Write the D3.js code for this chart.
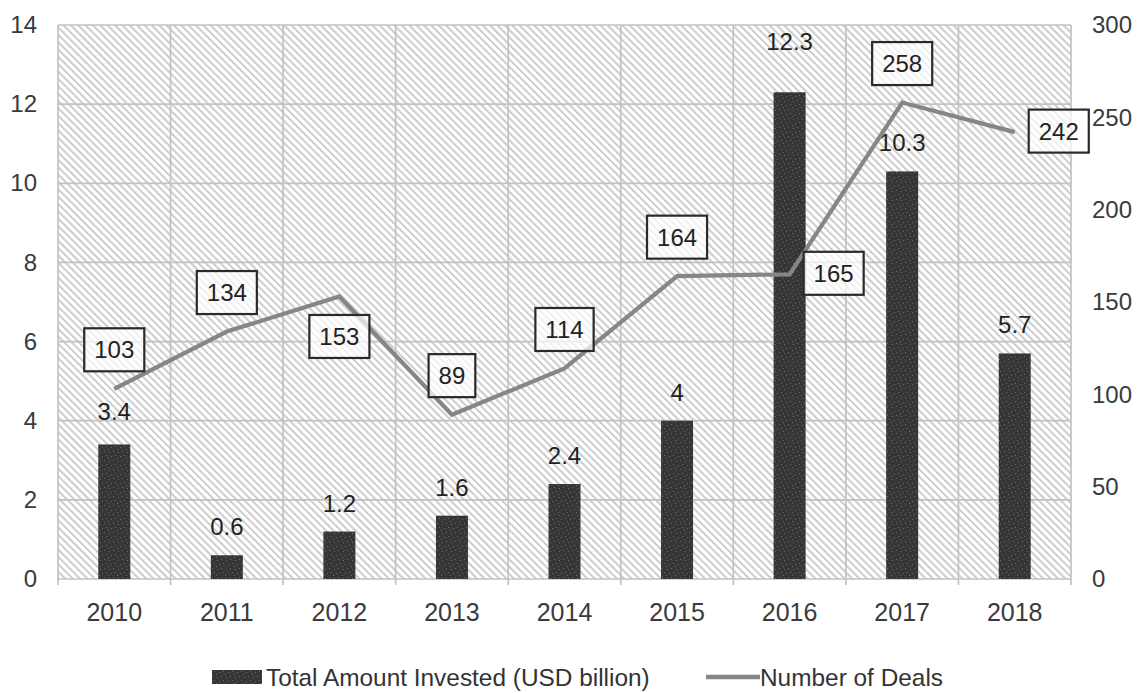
<!DOCTYPE html>
<html>
<head>
<meta charset="utf-8">
<script src="https://cdn.jsdelivr.net/npm/d3@7"></script>
<style>
  html, body { margin: 0; padding: 0; background: #fff; }
  svg { display: block; }
  text { font-family: "Liberation Sans", Arial, sans-serif; }
</style>
</head>
<body>
<svg id="chart" width="1139" height="693"></svg>
<script>
// Yearly investment totals and deal counts
const years = ["2010", "2011", "2012", "2013", "2014", "2015", "2016", "2017", "2018"];
const amountInvested = [3.4, 0.6, 1.2, 1.6, 2.4, 4, 12.3, 10.3, 5.7];
const numberOfDeals = [103, 134, 153, 89, 114, 164, 165, 258, 242];
const dealLabelPlacement = ["above", "above", "below", "above", "above", "above", "right", "above", "right"];
const leftTicks = [0, 2, 4, 6, 8, 10, 12, 14];
const rightTicks = [0, 50, 100, 150, 200, 250, 300];
const seriesNames = ["Total Amount Invested (USD billion)", "Number of Deals"];

const svg = d3.select("#chart");
const margin = { left: 58, right: 68, top: 25, bottom: 114 };
const W = 1139, H = 693;
const x0 = margin.left, x1 = W - margin.right;
const y0 = H - margin.bottom, y1 = margin.top;

const x = d3.scaleBand().domain(years).range([x0, x1]).paddingInner(0).paddingOuter(0);
const yLeft = d3.scaleLinear().domain([0, 14]).range([y0, y1]);
const yRight = d3.scaleLinear().domain([0, 300]).range([y0, y1]);

const defs = svg.append("defs");
// diagonal hatch for the plot background
const hatch = defs.append("pattern")
  .attr("id", "hatch").attr("patternUnits", "userSpaceOnUse")
  .attr("width", 5.2).attr("height", 5.2)
  .attr("patternTransform", "rotate(-45)");
hatch.append("rect").attr("width", 5.2).attr("height", 5.2).attr("fill", "#fff");
hatch.append("line").attr("x1", 1).attr("y1", 0).attr("x2", 1).attr("y2", 5.2)
  .attr("stroke", "#cacaca").attr("stroke-width", 1.9);

// speckled dark fill for the bars
const speck = defs.append("pattern")
  .attr("id", "speck").attr("patternUnits", "userSpaceOnUse")
  .attr("width", 9).attr("height", 9);
speck.append("rect").attr("width", 9).attr("height", 9).attr("fill", "#363636");
[[1, 2], [5, 1], [3, 6], [7, 5], [0, 8]].forEach(([px, py]) => {
  speck.append("rect").attr("x", px).attr("y", py).attr("width", 1).attr("height", 1)
    .attr("fill", "#6a6a6a");
});

// plot background
svg.append("rect")
  .attr("x", x0).attr("y", y1).attr("width", x1 - x0).attr("height", y0 - y1)
  .attr("fill", "url(#hatch)");

// grid
const grid = svg.append("g").attr("stroke", "#c2c2c2").attr("stroke-width", 1.7);
const bounds = years.map(d => x(d)).concat([x1]);
grid.selectAll("line.v").data(bounds).join("line")
  .attr("x1", d => d).attr("x2", d => d).attr("y1", y1).attr("y2", y0 + 6);
grid.selectAll("line.h").data(leftTicks).join("line")
  .attr("x1", x0).attr("x2", x1).attr("y1", d => yLeft(d)).attr("y2", d => yLeft(d));

// left axis
const axisLeft = svg.append("g").attr("transform", `translate(${x0 - 21},0)`)
  .call(d3.axisLeft(yLeft).tickValues(leftTicks).tickSize(0).tickPadding(0));
axisLeft.select(".domain").remove();
axisLeft.selectAll("text").attr("font-size", 24).attr("fill", "#3a3a3a")
  .attr("font-family", null);

// right axis
const axisRight = svg.append("g").attr("transform", `translate(${x1 + 21},0)`)
  .call(d3.axisRight(yRight).tickValues(rightTicks).tickSize(0).tickPadding(0));
axisRight.select(".domain").remove();
axisRight.selectAll("text").attr("font-size", 24).attr("fill", "#3a3a3a")
  .attr("font-family", null);

// bottom axis labels
const axisBottom = svg.append("g").attr("transform", `translate(0,${y0 + 24})`)
  .call(d3.axisBottom(x).tickSize(0).tickPadding(0));
axisBottom.select(".domain").remove();
axisBottom.selectAll("text").attr("font-size", 25).attr("fill", "#3a3a3a")
  .attr("dy", "0.71em").attr("font-family", null);

// bars
const barW = 32;
const bars = years.map((yr, i) => ({ yr, v: amountInvested[i] }));
svg.append("g").selectAll("rect").data(bars).join("rect")
  .attr("x", d => x(d.yr) + x.bandwidth() / 2 - barW / 2)
  .attr("width", barW)
  .attr("y", d => yLeft(d.v))
  .attr("height", d => yLeft(0) - yLeft(d.v))
  .attr("fill", "url(#speck)");

// bar value labels
const labelLift = { "2010": 24, "2016": 42 };
svg.append("g").selectAll("text").data(bars).join("text")
  .attr("x", d => x(d.yr) + x.bandwidth() / 2)
  .attr("y", d => yLeft(d.v) - (labelLift[d.yr] || 20))
  .attr("text-anchor", "middle")
  .attr("font-size", 24).attr("fill", "#222")
  .text(d => d.v);

// deals line
const pts = years.map((yr, i) => ({ yr, v: numberOfDeals[i], pos: dealLabelPlacement[i] }));
const line = d3.line()
  .x(d => x(d.yr) + x.bandwidth() / 2)
  .y(d => yRight(d.v));
svg.append("path").datum(pts)
  .attr("d", line)
  .attr("fill", "none").attr("stroke", "#868686").attr("stroke-width", 4.2)
  .attr("stroke-linejoin", "miter");

// boxed deal labels
const boxH = 43;
const lbl = svg.append("g").selectAll("g").data(pts).join("g");
lbl.each(function (d) {
  const g = d3.select(this);
  const px = x(d.yr) + x.bandwidth() / 2, py = yRight(d.v);
  const t = g.append("text").attr("text-anchor", "middle").attr("font-size", 24)
    .attr("fill", "#222").attr("dy", "0.35em").text(d.v);
  const tw = t.node().getComputedTextLength();
  const bw = tw + 20;
  let cx = px, cy = py;
  if (d.pos === "above") cy = py - 39;
  else if (d.pos === "below") cy = py + 40;
  else { cx = px + 14 + bw / 2; cy = py - 1; }
  g.insert("rect", "text")
    .attr("x", cx - bw / 2).attr("y", cy - boxH / 2)
    .attr("width", bw).attr("height", boxH)
    .attr("fill", "#fff").attr("fill-opacity", 0.7)
    .attr("stroke", "#2a2a2a").attr("stroke-width", 2.2);
  t.attr("x", cx).attr("y", cy);
});

// legend
const lg = svg.append("g");
lg.append("rect").attr("x", 212).attr("y", 670).attr("width", 50).attr("height", 14)
  .attr("fill", "url(#speck)");
lg.append("text").attr("x", 266).attr("y", 677).attr("dy", "0.35em")
  .attr("font-size", 24.4).attr("fill", "#333").text(seriesNames[0]);
lg.append("line").attr("x1", 706).attr("x2", 760).attr("y1", 677).attr("y2", 677)
  .attr("stroke", "#868686").attr("stroke-width", 4.5);
lg.append("text").attr("x", 760).attr("y", 677).attr("dy", "0.35em")
  .attr("font-size", 24.4).attr("fill", "#333").text(seriesNames[1]);
</script>
</body>
</html>
